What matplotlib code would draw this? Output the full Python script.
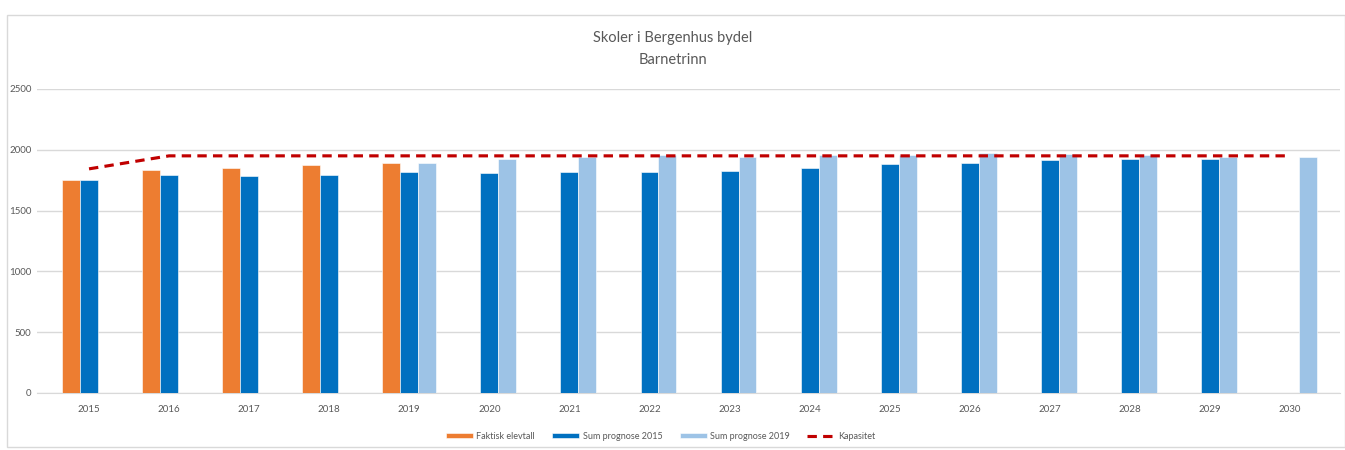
import numpy as np
import matplotlib.pyplot as plt
from matplotlib.patches import Rectangle

plt.rcParams['font.family'] = ['Lato', 'DejaVu Sans']

years = ['2015', '2016', '2017', '2018', '2019', '2020', '2021', '2022',
         '2023', '2024', '2025', '2026', '2027', '2028', '2029', '2030']
faktisk = [1755, 1835, 1851, 1875, 1892, None, None, None,
           None, None, None, None, None, None, None, None]
prognose_2015 = [1755, 1791, 1786, 1791, 1821, 1808, 1821, 1821,
                 1827, 1851, 1882, 1892, 1914, 1920, 1923, None]
prognose_2019 = [None, None, None, None, 1892, 1923, 1944, 1958,
                 1944, 1958, 1958, 1972, 1966, 1958, 1939, 1944]
kapasitet = [1843, 1950, 1950, 1950, 1950, 1950, 1950, 1950,
             1950, 1950, 1950, 1950, 1950, 1950, 1950, 1950]

def to_arr(v):
    return np.array([np.nan if x is None else x for x in v], dtype=float)

fig = plt.figure(figsize=(13.45, 4.5), dpi=100)
ax = fig.add_axes([0.0275, 0.1267, 0.9685, 0.6756])

x = np.arange(len(years))
w = 0.224
b1 = ax.bar(x - w, to_arr(faktisk), w, color='#ED7D31', edgecolor='white', linewidth=0.4,
            label='Faktisk elevtall', zorder=3)
b2 = ax.bar(x, to_arr(prognose_2015), w, color='#0070C0', edgecolor='white', linewidth=0.4,
            label='Sum prognose 2015', zorder=3)
b3 = ax.bar(x + w, to_arr(prognose_2019), w, color='#9DC3E6', edgecolor='white', linewidth=0.4,
            label='Sum prognose 2019', zorder=3)
l1, = ax.plot(x, kapasitet, color='#C00000', linewidth=2.25, linestyle=(0, (3, 2)),
              label='Kapasitet', zorder=4)

ax.set_xlim(-0.65, 15.62)
ax.set_ylim(0, 2500)
ax.set_yticks(np.arange(0, 2501, 500))
ax.set_xticks(x)
ax.set_xticklabels(years)
ax.yaxis.grid(True, color='#D9D9D9', linewidth=1, zorder=0)
ax.set_axisbelow(True)
for s in ['top', 'right', 'left']:
    ax.spines[s].set_visible(False)
ax.spines['bottom'].set_color('#D9D9D9')
ax.tick_params(axis='both', length=0, labelsize=7, colors='#595959')
ax.tick_params(axis='x', pad=9)
ax.tick_params(axis='y', pad=4)

fig.text(0.5, 0.915, 'Skoler i Bergenhus bydel', ha='center', va='center',
         fontsize=10.5, color='#595959')
fig.text(0.5, 0.867, 'Barnetrinn', ha='center', va='center',
         fontsize=10.5, color='#595959')

fig.legend(handles=[b1, b2, b3, l1], loc='center', bbox_to_anchor=(0.491, 0.031), ncol=4,
           frameon=False, fontsize=6.5, handlelength=3.0, handleheight=0.5,
           handletextpad=0.4, columnspacing=1.9, labelcolor='#595959')

fig.patches.append(Rectangle((0.005, 0.006), 0.995, 0.961, transform=fig.transFigure,
                             fill=False, edgecolor='#D9D9D9', linewidth=1))

fig.savefig('out.png', dpi=100)
